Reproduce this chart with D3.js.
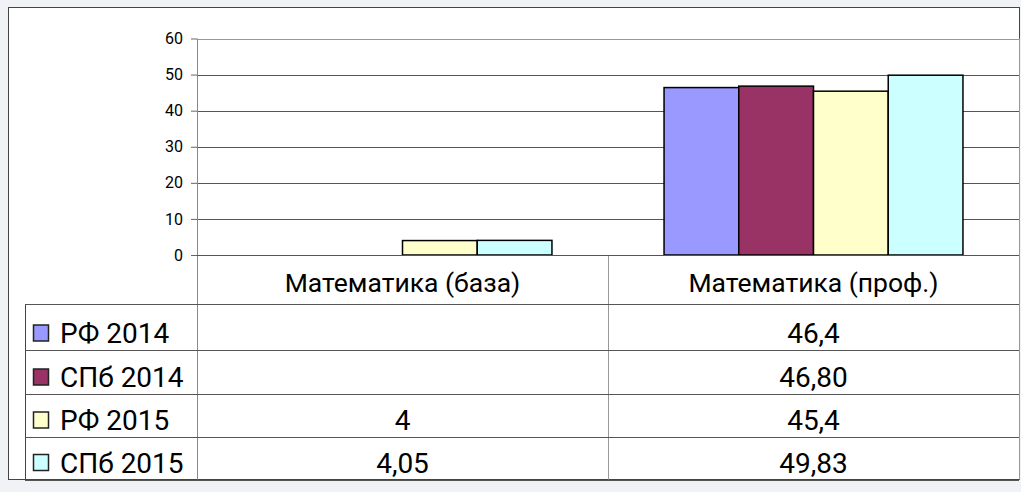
<!DOCTYPE html>
<html>
  <head>
    <meta charset="utf-8">
    <title>Математика</title>
    <style>
      body {
        margin: 0;
        background-color: #f0f2f5;
      }
      .frame {
        display: block;
      }
      .axis text {
        font: 16px Roboto, sans-serif;
        fill: #000;
      }
      .axis path {
        display: none;
      }
      .axis line {
        stroke: #666;
      }
      .catLabel {
        font: 26.5px Roboto, sans-serif;
        fill: #000;
        text-anchor: middle;
      }
      .rowText {
        font: 28px Roboto, sans-serif;
        fill: #000;
      }
    </style>
  </head>
  <body>
  <svg class="frame"></svg>
  <script src="https://cdn.jsdelivr.net/npm/d3@7"></script>
  <script>
    // data
    var categories = ["Математика (база)", "Математика (проф.)"];
    var seriesNames = ["РФ 2014", "СПб 2014", "РФ 2015", "СПб 2015"];
    var seriesColors = ["#9999ff", "#993366", "#ffffcc", "#ccffff"];
    var rf2014 = [null, 46.4];
    var spb2014 = [null, 46.8];
    var rf2015 = [4, 45.4];
    var spb2015 = [4.05, 49.83];
    // the table shows the values as they were typed
    var rf2014Text = ["", "46,4"];
    var spb2014Text = ["", "46,80"];
    var rf2015Text = ["4", "45,4"];
    var spb2015Text = ["4,05", "49,83"];
    var yTicks = [0, 10, 20, 30, 40, 50, 60];

    var seriesValues = [rf2014, spb2014, rf2015, spb2015];
    var seriesTexts = [rf2014Text, spb2014Text, rf2015Text, spb2015Text];

    var W = 1021, H = 492;
    var plot = {left: 197, right: 1019, top: 38.5, bottom: 255};
    var table = {left: 25, headerBottom: 304, rows: [304, 350, 394, 437, 479.5]};

    var svg = d3.select("svg")
      .attr("width", W)
      .attr("height", H);

    // white chart area with a thin border
    svg.append("rect")
      .attr("x", 8.5)
      .attr("y", 7.5)
      .attr("width", 1011)
      .attr("height", 472)
      .attr("fill", "#fff")
      .attr("stroke", "#444");

    var y = d3.scaleLinear()
      .domain([0, 60])
      .range([plot.bottom, plot.top]);

    var x = d3.scaleBand()
      .domain(categories)
      .range([plot.left, plot.right]);

    // gap width like the spreadsheet: 1.5 bar widths, split on both sides
    var x1 = d3.scaleBand()
      .domain(seriesNames)
      .range([0, x.bandwidth()])
      .paddingInner(0)
      .paddingOuter(0.75);

    // gridlines
    svg.append("g")
      .selectAll("line")
      .data(yTicks)
      .enter().append("line")
      .attr("x1", plot.left)
      .attr("x2", plot.right)
      .attr("y1", function(d) { return Math.round(y(d)) + 0.5; })
      .attr("y2", function(d) { return Math.round(y(d)) + 0.5; })
      .attr("stroke", function(d) { return d === 60 ? "#999" : "#555"; })
      .attr("stroke-width", 1);

    // bars
    var bars = [];
    seriesNames.forEach(function(s, si) {
      categories.forEach(function(c, ci) {
        var v = seriesValues[si][ci];
        if (v !== null) bars.push({s: s, c: c, v: v, color: seriesColors[si]});
      });
    });

    svg.append("g")
      .selectAll("rect")
      .data(bars)
      .enter().append("rect")
      .attr("x", function(d) { return x(d.c) + x1(d.s); })
      .attr("y", function(d) { return y(d.v); })
      .attr("width", x1.bandwidth())
      .attr("height", function(d) { return y(0) - y(d.v); })
      .attr("fill", function(d) { return d.color; })
      .attr("stroke", "#000")
      .attr("stroke-width", 1.5);

    // y axis
    svg.append("g")
      .attr("class", "axis")
      .attr("transform", "translate(" + plot.left + ",0)")
      .call(d3.axisLeft(y).tickValues(yTicks).tickSize(6).tickPadding(8));

    // plot area edges and table lines
    var lines = svg.append("g").attr("fill", "none");
    lines.append("line")
      .attr("x1", plot.left + 0.5).attr("x2", plot.left + 0.5)
      .attr("y1", plot.top).attr("y2", table.rows[4])
      .attr("stroke", "#888");
    lines.append("line")
      .attr("x1", plot.right + 0.5).attr("x2", plot.right + 0.5)
      .attr("y1", plot.top).attr("y2", table.rows[4])
      .attr("stroke", "#999");
    lines.append("line")
      .attr("x1", x(categories[1]) + 0.5).attr("x2", x(categories[1]) + 0.5)
      .attr("y1", plot.bottom).attr("y2", table.rows[4])
      .attr("stroke", "#999");
    lines.append("line")
      .attr("x1", table.left + 0.5).attr("x2", table.left + 0.5)
      .attr("y1", table.headerBottom).attr("y2", table.rows[4])
      .attr("stroke", "#444");
    lines.append("line")
      .attr("x1", plot.left).attr("x2", plot.right)
      .attr("y1", Math.round(y(0)) + 0.5).attr("y2", Math.round(y(0)) + 0.5)
      .attr("stroke", "#555");
    lines.selectAll(".rowLine")
      .data(table.rows)
      .enter().append("line")
      .attr("class", "rowLine")
      .attr("x1", table.left).attr("x2", plot.right)
      .attr("y1", function(d) { return Math.round(d) + 0.5; })
      .attr("y2", function(d) { return Math.round(d) + 0.5; })
      .attr("stroke", "#555");

    // category header
    svg.append("g")
      .selectAll("text")
      .data(categories)
      .enter().append("text")
      .attr("class", "catLabel")
      .attr("x", function(d) { return x(d) + x.bandwidth() / 2; })
      .attr("y", 292)
      .text(function(d) { return d; });

    // data table rows with legend keys
    var rows = svg.append("g")
      .selectAll("g")
      .data(seriesNames)
      .enter().append("g")
      .attr("transform", function(d, i) { return "translate(0," + (table.rows[i + 1] - 7) + ")"; });

    rows.append("rect")
      .attr("x", 33.5)
      .attr("y", -18)
      .attr("width", 15)
      .attr("height", 16)
      .attr("fill", function(d, i) { return seriesColors[i]; })
      .attr("stroke", "#222")
      .attr("stroke-width", 1.5);

    rows.append("text")
      .attr("class", "rowText")
      .attr("x", 60)
      .attr("y", 0)
      .text(function(d) { return d; });

    rows.each(function(s, si) {
      d3.select(this).selectAll(".val")
        .data(categories)
        .enter().append("text")
        .attr("class", "rowText val")
        .attr("text-anchor", "middle")
        .attr("x", function(c) { return x(c) + x.bandwidth() / 2; })
        .attr("y", 0)
        .text(function(c, ci) { return seriesTexts[si][ci]; });
    });
  </script>
  </body>
</html>
